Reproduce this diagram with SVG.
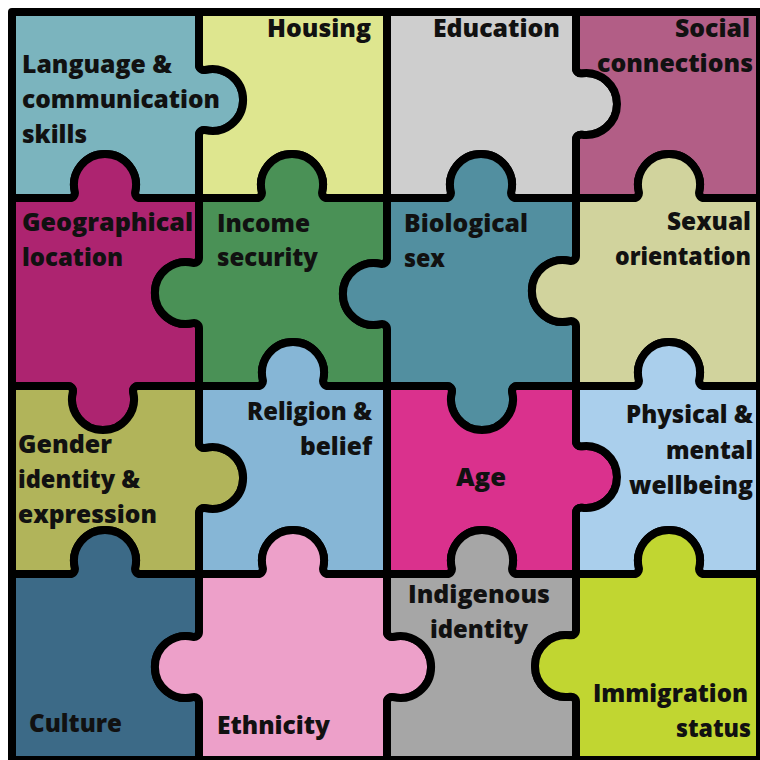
<svg xmlns="http://www.w3.org/2000/svg" width="760" height="760" viewBox="0 0 760 760">
<style>
.p{stroke:#000;stroke-width:8;stroke-linejoin:round}
.t{font-family:"Open Sans","Noto Sans",sans-serif;font-weight:800;font-size:25px;fill:#111}
.e{text-anchor:end}
.m{text-anchor:middle}
</style>
<rect width="760" height="760" fill="#fff"/>
<g id="language">
<path class="p" fill="#7BB4BE" d="M12,12 H199 V64.9 A5,5 0 0 0 205.1,69.8 A31,31 0 1 1 205.1,130.2 A5,5 0 0 0 199,135.1 V198 H140.1 A5,5 0 0 1 135.2,191.9 A31,31 0 1 0 74.8,191.9 A5,5 0 0 1 69.9,198 H12 Z"/>
</g>
<g id="housing">
<path class="p" fill="#DEE68F" d="M199,12 H387 V198 H327.1 A5,5 0 0 1 322.2,191.9 A31,31 0 1 0 261.8,191.9 A5,5 0 0 1 256.9,198 H199 V135.1 A5,5 0 0 1 205.1,130.2 A31,31 0 1 0 205.1,69.8 A5,5 0 0 1 199,64.9 Z"/>
<text class="t e" x="371" y="37" textLength="104" lengthAdjust="spacingAndGlyphs">Housing</text>
</g>
<g id="education">
<path class="p" fill="#CECECE" d="M387,12 H576 V68.4 A5,5 0 0 0 581.7,73.3 A31,31 0 1 1 581.7,134.7 A5,5 0 0 0 576,139.6 V198 H516.1 A5,5 0 0 1 511.2,191.9 A31,31 0 1 0 450.8,191.9 A5,5 0 0 1 445.9,198 H387 Z"/>
<text class="t e" x="560" y="37" textLength="127" lengthAdjust="spacingAndGlyphs">Education</text>
</g>
<g id="social">
<path class="p" fill="#B25E86" d="M576,12 H760 V198 H704.1 A5,5 0 0 1 699.2,191.9 A31,31 0 1 0 638.8,191.9 A5,5 0 0 1 633.9,198 H576 V139.6 A5,5 0 0 1 581.7,134.7 A31,31 0 1 0 581.7,73.3 A5,5 0 0 1 576,68.4 Z"/>
</g>
<g id="geographical">
<path class="p" fill="#AD2470" d="M12,198 H69.9 A5,5 0 0 0 74.8,191.9 A31,31 0 1 1 135.2,191.9 A5,5 0 0 0 140.1,198 H199 V257.9 A5,5 0 0 1 192.9,262.8 A31,31 0 1 0 192.9,323.2 A5,5 0 0 1 199,328.1 V386 H138.1 A5,5 0 0 0 133.2,392.1 A31,31 0 1 1 72.8,392.1 A5,5 0 0 0 67.9,386 H12 Z"/>
</g>
<g id="income">
<path class="p" fill="#4A9156" d="M199,198 H256.9 A5,5 0 0 0 261.8,191.9 A31,31 0 1 1 322.2,191.9 A5,5 0 0 0 327.1,198 H387 V258.9 A5,5 0 0 1 380.9,263.8 A31,31 0 1 0 380.9,324.2 A5,5 0 0 1 387,329.1 V386 H328.1 A5,5 0 0 1 323.2,379.9 A31,31 0 1 0 262.8,379.9 A5,5 0 0 1 257.9,386 H199 V328.1 A5,5 0 0 0 192.9,323.2 A31,31 0 1 1 192.9,262.8 A5,5 0 0 0 199,257.9 Z"/>
</g>
<g id="biological">
<path class="p" fill="#528FA0" d="M387,198 H445.9 A5,5 0 0 0 450.8,191.9 A31,31 0 1 1 511.2,191.9 A5,5 0 0 0 516.1,198 H576 V255.9 A5,5 0 0 1 569.9,260.8 A31,31 0 1 0 569.9,321.2 A5,5 0 0 1 576,326.1 V386 H517.1 A5,5 0 0 0 512.2,392.1 A31,31 0 1 1 451.8,392.1 A5,5 0 0 0 446.9,386 H387 V329.1 A5,5 0 0 0 380.9,324.2 A31,31 0 1 1 380.9,263.8 A5,5 0 0 0 387,258.9 Z"/>
</g>
<g id="sexual">
<path class="p" fill="#D1D39D" d="M576,198 H633.9 A5,5 0 0 0 638.8,191.9 A31,31 0 1 1 699.2,191.9 A5,5 0 0 0 704.1,198 H760 V386 H704.1 A5,5 0 0 1 699.2,379.9 A31,31 0 1 0 638.8,379.9 A5,5 0 0 1 633.9,386 H576 V326.1 A5,5 0 0 0 569.9,321.2 A31,31 0 1 1 569.9,260.8 A5,5 0 0 0 576,255.9 Z"/>
</g>
<g id="gender">
<path class="p" fill="#B1B45A" d="M12,386 H67.9 A5,5 0 0 1 72.8,392.1 A31,31 0 1 0 133.2,392.1 A5,5 0 0 1 138.1,386 H199 V442.9 A5,5 0 0 0 205.1,447.8 A31,31 0 1 1 205.1,508.2 A5,5 0 0 0 199,513.1 V574 H140.1 A5,5 0 0 1 135.2,567.9 A31,31 0 1 0 74.8,567.9 A5,5 0 0 1 69.9,574 H12 Z"/>
</g>
<g id="religion">
<path class="p" fill="#86B6D6" d="M199,386 H257.9 A5,5 0 0 0 262.8,379.9 A31,31 0 1 1 323.2,379.9 A5,5 0 0 0 328.1,386 H387 V574 H328.1 A5,5 0 0 1 323.2,567.9 A31,31 0 1 0 262.8,567.9 A5,5 0 0 1 257.9,574 H199 V513.1 A5,5 0 0 1 205.1,508.2 A31,31 0 1 0 205.1,447.8 A5,5 0 0 1 199,442.9 Z"/>
</g>
<g id="age">
<path class="p" fill="#DA318D" d="M387,386 H446.9 A5,5 0 0 1 451.8,392.1 A31,31 0 1 0 512.2,392.1 A5,5 0 0 1 517.1,386 H576 V441.4 A5,5 0 0 0 581.7,446.3 A31,31 0 1 1 581.7,507.7 A5,5 0 0 0 576,512.6 V574 H517.1 A5,5 0 0 1 512.2,567.9 A31,31 0 1 0 451.8,567.9 A5,5 0 0 1 446.9,574 H387 Z"/>
</g>
<g id="physical">
<path class="p" fill="#AACFEC" d="M576,386 H633.9 A5,5 0 0 0 638.8,379.9 A31,31 0 1 1 699.2,379.9 A5,5 0 0 0 704.1,386 H760 V574 H704.1 A5,5 0 0 1 699.2,567.9 A31,31 0 1 0 638.8,567.9 A5,5 0 0 1 633.9,574 H576 V512.6 A5,5 0 0 1 581.7,507.7 A31,31 0 1 0 581.7,446.3 A5,5 0 0 1 576,441.4 Z"/>
</g>
<g id="culture">
<path class="p" fill="#3C6A87" d="M12,574 H69.9 A5,5 0 0 0 74.8,567.9 A31,31 0 1 1 135.2,567.9 A5,5 0 0 0 140.1,574 H199 V631.9 A5,5 0 0 1 192.9,636.8 A31,31 0 1 0 192.9,697.2 A5,5 0 0 1 199,702.1 V760 H12 Z"/>
</g>
<g id="ethnicity">
<path class="p" fill="#EDA0C9" d="M199,574 H257.9 A5,5 0 0 0 262.8,567.9 A31,31 0 1 1 323.2,567.9 A5,5 0 0 0 328.1,574 H387 V631.9 A5,5 0 0 0 393.1,636.8 A31,31 0 1 1 393.1,697.2 A5,5 0 0 0 387,702.1 V760 H199 V702.1 A5,5 0 0 0 192.9,697.2 A31,31 0 1 1 192.9,636.8 A5,5 0 0 0 199,631.9 Z"/>
</g>
<g id="indigenous">
<path class="p" fill="#A6A6A6" d="M387,574 H446.9 A5,5 0 0 0 451.8,567.9 A31,31 0 1 1 512.2,567.9 A5,5 0 0 0 517.1,574 H576 V630.4 A5,5 0 0 1 570.3,635.3 A31,31 0 1 0 570.3,696.7 A5,5 0 0 1 576,701.6 V760 H387 V702.1 A5,5 0 0 1 393.1,697.2 A31,31 0 1 0 393.1,636.8 A5,5 0 0 1 387,631.9 Z"/>
</g>
<g id="immigration">
<path class="p" fill="#C1D631" d="M576,574 H633.9 A5,5 0 0 0 638.8,567.9 A31,31 0 1 1 699.2,567.9 A5,5 0 0 0 704.1,574 H760 V760 H576 V701.6 A5,5 0 0 0 570.3,696.7 A31,31 0 1 1 570.3,635.3 A5,5 0 0 0 576,630.4 Z"/>
</g>
<g id="labels">
<text class="t" x="22" y="73" textLength="150" lengthAdjust="spacingAndGlyphs">Language &amp;</text>
<text class="t" x="22" y="108" textLength="198" lengthAdjust="spacingAndGlyphs">communication</text>
<text class="t" x="22" y="143" textLength="65" lengthAdjust="spacingAndGlyphs">skills</text>
<text class="t e" x="750" y="37" textLength="75" lengthAdjust="spacingAndGlyphs">Social</text>
<text class="t e" x="753" y="72" textLength="156" lengthAdjust="spacingAndGlyphs">connections</text>
<text class="t" x="22" y="231" textLength="171" lengthAdjust="spacingAndGlyphs">Geographical</text>
<text class="t" x="22" y="266" textLength="101" lengthAdjust="spacingAndGlyphs">location</text>
<text class="t" x="217" y="232" textLength="93" lengthAdjust="spacingAndGlyphs">Income</text>
<text class="t" x="217" y="266" textLength="101" lengthAdjust="spacingAndGlyphs">security</text>
<text class="t" x="404" y="232" textLength="124" lengthAdjust="spacingAndGlyphs">Biological</text>
<text class="t" x="404" y="267" textLength="41" lengthAdjust="spacingAndGlyphs">sex</text>
<text class="t e" x="751" y="230" textLength="84" lengthAdjust="spacingAndGlyphs">Sexual</text>
<text class="t e" x="751" y="265" textLength="136" lengthAdjust="spacingAndGlyphs">orientation</text>
<text class="t" x="18" y="453" textLength="94" lengthAdjust="spacingAndGlyphs">Gender</text>
<text class="t" x="18" y="488" textLength="122" lengthAdjust="spacingAndGlyphs">identity &amp;</text>
<text class="t" x="18" y="523" textLength="139" lengthAdjust="spacingAndGlyphs">expression</text>
<text class="t e" x="372" y="420" textLength="125" lengthAdjust="spacingAndGlyphs">Religion &amp;</text>
<text class="t e" x="372" y="455" textLength="72" lengthAdjust="spacingAndGlyphs">belief</text>
<text class="t m" x="481" y="486" textLength="50" lengthAdjust="spacingAndGlyphs">Age</text>
<text class="t e" x="753" y="423" textLength="127" lengthAdjust="spacingAndGlyphs">Physical &amp;</text>
<text class="t e" x="753" y="459" textLength="87" lengthAdjust="spacingAndGlyphs">mental</text>
<text class="t e" x="753" y="494" textLength="124" lengthAdjust="spacingAndGlyphs">wellbeing</text>
<text class="t" x="29" y="732" textLength="93" lengthAdjust="spacingAndGlyphs">Culture</text>
<text class="t" x="217" y="734" textLength="113" lengthAdjust="spacingAndGlyphs">Ethnicity</text>
<text class="t m" x="479" y="603" textLength="142" lengthAdjust="spacingAndGlyphs">Indigenous</text>
<text class="t m" x="479" y="638" textLength="98" lengthAdjust="spacingAndGlyphs">identity</text>
<text class="t e" x="748" y="702" textLength="155" lengthAdjust="spacingAndGlyphs">Immigration</text>
<text class="t e" x="751" y="737" textLength="75" lengthAdjust="spacingAndGlyphs">status</text>
</g>
</svg>
